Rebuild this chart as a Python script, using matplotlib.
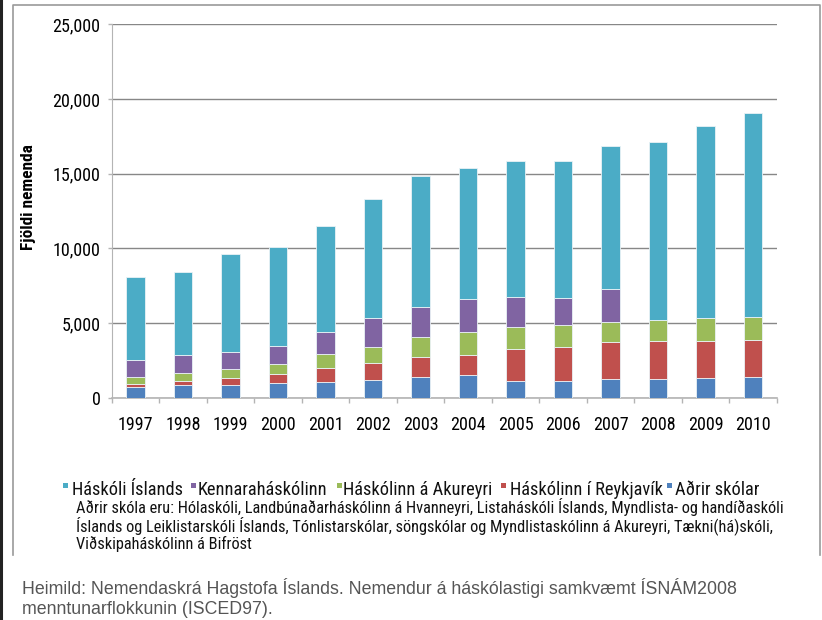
# -*- coding: utf-8 -*-
"""Stacked bar chart: university students in Iceland by school, 1997-2010."""

import matplotlib

matplotlib.use("Agg")
import matplotlib.pyplot as plt
from matplotlib import font_manager
from matplotlib.lines import Line2D
from matplotlib.patches import Rectangle
from matplotlib.ticker import FuncFormatter, MultipleLocator
import numpy as np


# ==================== Data ====================
YEARS = ["1997", "1998", "1999", "2000", "2001", "2002", "2003",
         "2004", "2005", "2006", "2007", "2008", "2009", "2010"]

ADRIR = [740, 830, 830, 960, 1050, 1210, 1410, 1540, 1090, 1140, 1230, 1270, 1340, 1380]
HR = [200, 310, 510, 625, 960, 1140, 1295, 1340, 2165, 2275, 2500, 2545, 2480, 2500]
HA = [450, 515, 560, 650, 915, 1050, 1360, 1495, 1495, 1450, 1320, 1385, 1495, 1500]
KHI = [1160, 1230, 1140, 1205, 1495, 1920, 2010, 2210, 1965, 1830, 2210, 0, 0, 0]
HI = [5540, 5560, 6610, 6680, 7060, 8015, 8800, 8775, 9110, 9135, 9580, 11900, 12885, 13690]

# bottom -> top
SERIES = [
    ("Aðrir skólar", ADRIR, "#4F81BD"),
    ("Háskólinn í Reykjavík", HR, "#C0504D"),
    ("Háskólinn á Akureyri", HA, "#9BBB59"),
    ("Kennaraháskólinn", KHI, "#8064A2"),
    ("Háskóli Íslands", HI, "#4BACC6"),
]

Y_LABEL = "Fjöldi nemenda"
NOTE_LINES = [
    "Aðrir skóla eru: Hólaskóli, Landbúnaðarháskólinn á Hvanneyri, Listaháskóli Íslands, Myndlista- og handíðaskóli",
    "Íslands og Leiklistarskóli Íslands, Tónlistarskólar, söngskólar og Myndlistaskólinn á Akureyri, Tækni(há)skóli,",
    "Viðskipaháskólinn á Bifröst",
]
SOURCE_LINES = [
    "Heimild: Nemendaskrá Hagstofa Íslands. Nemendur á háskólastigi samkvæmt ÍSNÁM2008",
    "menntunarflokkunin (ISCED97).",
]

# ==================== Layout ====================
W, H = 822, 620
PLAIN = ["Liberation Sans", "DejaVu Sans"]
GRID_COLOR = "#878787"
AXIS_COLOR = "#B4B4B4"
# legend (x of swatch, x of text) in pixels
LEGEND_X = [(63, 72), (191, 198), (337, 343), (501, 510), (667, 675)]
LEGEND_Y = 490


def pick_narrow():
    """Find a condensed sans face; fall back to Roboto."""
    entries = font_manager.fontManager.ttflist
    names = {f.name for f in entries}
    for name in ("Liberation Sans Narrow", "Roboto Condensed", "Arial Narrow",
                 "Open Sans Condensed"):
        if name in names:
            return {"fontfamily": [name, "DejaVu Sans"]}
    for f in entries:
        if "condensed" in str(f.stretch).lower() and f.name in ("DejaVu Sans", "Roboto", "Noto Sans", "Open Sans"):
            return {"fontfamily": [f.name, "DejaVu Sans"], "fontstretch": "condensed"}
    return {"fontfamily": ["Roboto", "DejaVu Sans"]}


NARROW = pick_narrow()


def px(x, y):
    return x / W, 1 - y / H


def draw_frame(fig):
    # dark page edge on the left and the light grey chart box
    fig.add_artist(Line2D([0.0015, 0.0015], [0, 1], color="#222222", lw=2.2,
                          transform=fig.transFigure))
    x0, y0 = px(13, 5)
    x1, y1 = px(819.5, 555)
    fig.add_artist(Line2D([x0, x0, x1, x1], [y1, y0, y0, y1], color="#9A9A9A",
                          lw=1.2, transform=fig.transFigure))


def draw_bars(ax):
    x = np.arange(len(YEARS))
    bottom = np.zeros(len(YEARS))
    for name, values, color in SERIES:
        vals = np.array(values, dtype=float)
        ax.bar(x, vals, width=0.39, bottom=bottom, color=color,
               edgecolor="#EAF2F6", linewidth=0.6, label=name, zorder=3)
        bottom += vals

    ax.set_xlim(-0.5, len(YEARS) - 0.5)
    ax.set_ylim(0, 25000)
    ax.yaxis.set_major_locator(MultipleLocator(5000))
    ax.yaxis.set_major_formatter(FuncFormatter(lambda v, _: f"{v:,.0f}"))
    ax.grid(axis="y", color=GRID_COLOR, linewidth=1.0, zorder=0)
    ax.set_axisbelow(True)

    ax.set_xticks(x)
    ax.set_xticklabels(YEARS, fontsize=13, **NARROW)
    ax.set_xticks(np.arange(len(YEARS) + 1) - 0.5, minor=True)
    ax.tick_params(axis="x", which="major", length=0, pad=13)
    ax.tick_params(axis="x", which="minor", length=3.5, color=AXIS_COLOR, width=1)
    ax.tick_params(axis="y", length=3, color=AXIS_COLOR, width=1, pad=5)
    for lab in ax.get_yticklabels():
        lab.set_fontsize(13)
        lab.set_fontfamily(NARROW["fontfamily"])
        if "fontstretch" in NARROW:
            lab.set_fontstretch(NARROW["fontstretch"])

    for side in ("top", "right"):
        ax.spines[side].set_visible(False)
    ax.spines["left"].set_color(AXIS_COLOR)
    ax.spines["bottom"].set_color(AXIS_COLOR)
    ax.spines["bottom"].set_linewidth(1.2)

    ax.set_ylabel(Y_LABEL, fontweight="bold", fontsize=12.5, **NARROW)
    ax.yaxis.set_label_coords((36 - 111.7) / (776.7 - 111.7),
                              1 - (197.5 - 24.3) / (397.7 - 24.3))


def draw_legend(fig):
    for (sx, tx), (name, _values, color) in zip(LEGEND_X, SERIES[::-1]):
        rx, ry = px(sx, LEGEND_Y - 2)
        fig.add_artist(Rectangle((rx, ry), 5 / W, 5 / H, facecolor=color,
                                 edgecolor="none", transform=fig.transFigure))
        fig.text(*px(tx, LEGEND_Y), name, fontsize=13.2, va="center", ha="left",
                 color="#111111", **NARROW)

    for i, line in enumerate(NOTE_LINES):
        fig.text(*px(76, 507 + i * 18.5), line, fontsize=11.8, va="center",
                 ha="left", color="#111111", **NARROW)

    for i, line in enumerate(SOURCE_LINES):
        fig.text(*px(22, 588 + i * 21), line, fontfamily=PLAIN, fontsize=12.8,
                 va="center", ha="left", color="#555555")


def main():
    fig = plt.figure(figsize=(W / 100, H / 100), dpi=100)
    l, t = px(111.7, 24.3)
    r, b = px(776.7, 397.7)
    ax = fig.add_axes([l, b, r - l, t - b])
    draw_frame(fig)
    draw_bars(ax)
    draw_legend(fig)
    fig.savefig("out.png", dpi=100)
    plt.close(fig)


if __name__ == "__main__":
    main()
